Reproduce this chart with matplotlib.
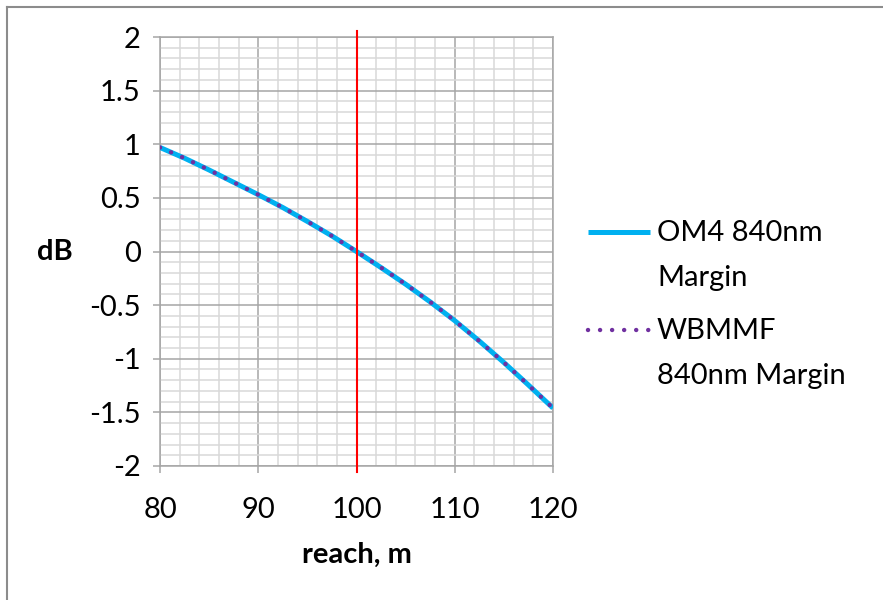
import matplotlib
matplotlib.use("Agg")
import matplotlib.pyplot as plt
from matplotlib.lines import Line2D
from matplotlib.ticker import MultipleLocator

plt.rcParams['font.family'] = ['Lato', 'DejaVu Sans']

# reach in metres and margin in dB
reach = [80, 82.5, 85, 87.5, 90, 92.5, 95, 97.5, 100, 102.5, 105, 107.5, 110, 112.5, 115, 117.5, 120]
om4_margin = [0.97, 0.87, 0.76, 0.645, 0.53, 0.41, 0.28, 0.145, 0.0, -0.15, -0.305, -0.47, -0.645, -0.835, -1.035, -1.245, -1.46]
wbmmf_margin = [0.97, 0.87, 0.76, 0.645, 0.53, 0.41, 0.28, 0.145, 0.0, -0.15, -0.305, -0.47, -0.645, -0.835, -1.035, -1.245, -1.46]
marker_x = [100, 100]
marker_y = [-2.06, 2.06]
series_names = ['OM4 840nm\nMargin', 'WBMMF\n840nm Margin']

W, H = 883, 600
fs = 21
fig = plt.figure(figsize=(W / 100, H / 100), dpi=100)
ax = fig.add_axes([160 / W, 1 - 466 / H, (553 - 160) / W, (466 - 37) / H])

major_col = '#a6a6a6'
minor_col = '#d9d9d9'

ax.set_xlim(80, 120)
ax.set_ylim(-2, 2)
ax.xaxis.set_major_locator(MultipleLocator(10))
ax.xaxis.set_minor_locator(MultipleLocator(2))
ax.yaxis.set_major_locator(MultipleLocator(0.5))
ax.yaxis.set_minor_locator(MultipleLocator(0.1))
ax.grid(which='minor', color=minor_col, lw=1.1, zorder=0)
ax.grid(which='major', color=major_col, lw=1.1, zorder=0)
ax.set_axisbelow(True)
for s in ax.spines.values():
    s.set_color(major_col)
    s.set_linewidth(1.1)
ax.tick_params(which='major', length=5, width=1.1, color=major_col, labelsize=fs)
ax.tick_params(axis='x', which='major', pad=17)
ax.tick_params(axis='y', which='major', pad=9)
ax.tick_params(which='minor', length=0)
ax.set_yticks([2, 1.5, 1, 0.5, 0, -0.5, -1, -1.5, -2])
ax.set_yticklabels(['2', '1.5', '1', '0.5', '0', '-0.5', '-1', '-1.5', '-2'])

om4_style = dict(color='#00b0f0', lw=3.6, solid_capstyle='butt')
wb_style = dict(color='#7030a0', lw=3.2, linestyle=(0, (0.01, 2.7)), dash_capstyle='round')

ax.plot(reach, om4_margin, zorder=3, **om4_style)
ax.plot(reach, wbmmf_margin, zorder=4, **wb_style)
ax.plot(marker_x, marker_y, color='#ff0000', lw=1.5, clip_on=False, zorder=5)

ax.set_xlabel('reach, m', fontsize=fs, fontweight='bold', labelpad=14)
fig.text(55 / W, 1 - 252 / H, 'dB', fontsize=fs, fontweight='bold', ha='center', va='center')

# legend drawn by hand so the sample lines sit on the first text line, as in the reference
leg_y = [232, 330]
for name, style, y in zip(series_names, [om4_style, wb_style], leg_y):
    fig.add_artist(Line2D([588 / W, 650 / W], [1 - y / H, 1 - y / H], transform=fig.transFigure, **style))
    fig.text(657 / W, 1 - (y - 12) / H, name, fontsize=fs, ha='left', va='top', linespacing=1.9)

fig.add_artist(Line2D([7 / W, 1], [1 - 7 / H, 1 - 7 / H], color='#8c8c8c', lw=1.5, transform=fig.transFigure))
fig.add_artist(Line2D([7 / W, 7 / W], [0, 1 - 7 / H], color='#8c8c8c', lw=1.5, transform=fig.transFigure))

fig.savefig('out.png', dpi=100)
